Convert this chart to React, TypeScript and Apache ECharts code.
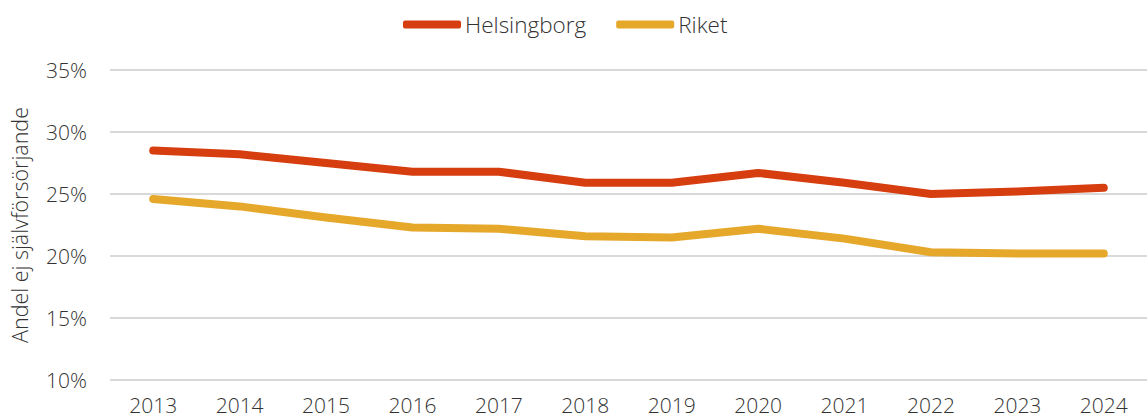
import React, { useEffect, useRef } from "react";
import * as echarts from "echarts";

const years = ["2013", "2014", "2015", "2016", "2017", "2018", "2019", "2020", "2021", "2022", "2023", "2024"];
const helsingborg = [28.5, 28.2, 27.5, 26.8, 26.8, 25.9, 25.9, 26.7, 25.9, 25.0, 25.2, 25.5];
const riket = [24.6, 24.0, 23.1, 22.3, 22.2, 21.6, 21.5, 22.2, 21.4, 20.3, 20.2, 20.2];

const FONT = "Open Sans";
const TEXT = "#333333";

export default function App() {
  const ref = useRef<HTMLDivElement>(null);

  useEffect(() => {
    if (!ref.current) return;
    const chart = echarts.init(ref.current, undefined, { renderer: "svg" });
    chart.setOption({
      animation: false,
      textStyle: { fontFamily: FONT, fontWeight: 300, color: TEXT },
      legend: {
        top: 8,
        left: 398,
        itemWidth: 58,
        itemHeight: 8,
        itemGap: 30,
        icon: "roundRect",
        textStyle: { fontFamily: FONT, fontWeight: 300, fontSize: 22.5, color: TEXT, padding: [0, 0, 0, -1] },
        data: ["Helsingborg", "Riket"],
      },
      grid: { left: 108, top: 70, width: 1044, height: 310 },
      xAxis: {
        type: "category",
        data: years,
        boundaryGap: true,
        axisLine: { show: false },
        axisTick: { show: false },
        axisLabel: { fontFamily: FONT, fontWeight: 300, fontSize: 21, color: TEXT, margin: 14 },
      },
      yAxis: {
        type: "value",
        min: 10,
        max: 35,
        interval: 5,
        name: "Andel ej självförsörjande",
        nameLocation: "middle",
        nameGap: 80,
        nameTextStyle: { fontFamily: FONT, fontWeight: 300, fontSize: 21.5, color: TEXT },
        axisLine: { show: false },
        axisTick: { show: false },
        axisLabel: {
          fontFamily: FONT,
          fontWeight: 300,
          fontSize: 21,
          color: TEXT,
          margin: 23,
          formatter: (v: number) => `${v}%`,
        },
        splitLine: { lineStyle: { color: "#d9d9d9", width: 2 } },
      },
      series: [
        {
          name: "Helsingborg",
          type: "line",
          data: helsingborg,
          symbol: "none",
          color: "#D63E10",
          lineStyle: { width: 8, cap: "round", join: "round" },
        },
        {
          name: "Riket",
          type: "line",
          data: riket,
          symbol: "none",
          color: "#E5A82A",
          lineStyle: { width: 8, cap: "round", join: "round" },
        },
      ],
    });
    return () => chart.dispose();
  }, []);

  return (
    <div
      ref={ref}
      style={{ position: "fixed", left: 0, top: 0, width: 1147, height: 420, background: "#fff" }}
    />
  );
}
